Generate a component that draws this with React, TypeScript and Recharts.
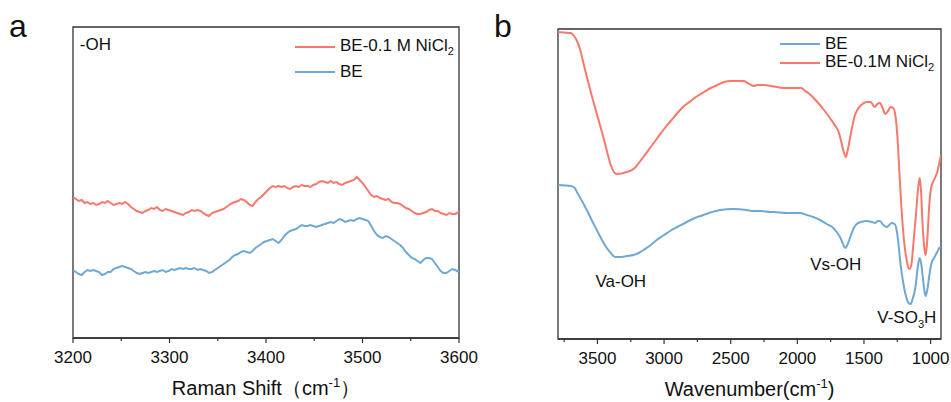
import React from 'react';
import { LineChart, Line, XAxis, YAxis, ReferenceArea, ReferenceDot, Legend } from 'recharts';

const FONT = '"Liberation Sans", Arial, Helvetica, sans-serif';
const RED = '#f8786b';
const BLUE = '#6fa9d3';
const AXIS = '#333';
const INK = '#111';

// ---- panel a: Raman, -OH stretch region ----
const ramanTicks = [3200, 3250, 3300, 3350, 3400, 3450, 3500, 3550, 3600];
const ramanMajor = [3200, 3300, 3400, 3500, 3600];
const ramanNames = ['BE-0.1 M NiCl2', 'BE'];

const ramanNi: [number, number][] = [
  [3200, 141], [3203, 139], [3206, 137], [3209, 138], [3212, 135], [3215, 136], [3218, 134], [3221, 135],
  [3224, 133], [3227, 134], [3230, 136], [3233, 135], [3236, 137], [3239, 135], [3242, 133], [3245, 134],
  [3248, 135], [3251, 134], [3254, 136], [3257, 134], [3260, 131], [3263, 129], [3266, 127], [3269, 126],
  [3272, 125], [3275, 127], [3278, 128], [3281, 130], [3284, 129], [3287, 131], [3290, 128], [3293, 127],
  [3296, 129], [3299, 128], [3302, 127], [3305, 126], [3308, 125], [3311, 124], [3314, 123], [3317, 125],
  [3320, 126], [3323, 128], [3326, 127], [3329, 128], [3332, 127], [3335, 125], [3338, 123], [3341, 122],
  [3344, 125], [3347, 126], [3350, 127], [3353, 128], [3356, 129], [3359, 131], [3362, 133], [3365, 135],
  [3368, 136], [3371, 137], [3374, 139], [3377, 138], [3380, 136], [3383, 133], [3386, 132], [3389, 136],
  [3392, 139], [3395, 141], [3398, 144], [3401, 147], [3404, 150], [3407, 152], [3410, 151], [3413, 152],
  [3416, 151], [3419, 152], [3422, 150], [3425, 149], [3428, 151], [3431, 152], [3434, 151], [3437, 153],
  [3440, 152], [3443, 152], [3446, 151], [3449, 153], [3452, 154], [3455, 156], [3458, 157], [3461, 156],
  [3464, 155], [3467, 157], [3470, 155], [3473, 156], [3476, 154], [3479, 153], [3482, 155], [3485, 156],
  [3488, 157], [3491, 158], [3494, 161], [3497, 158], [3500, 155], [3503, 151], [3506, 147], [3509, 143],
  [3512, 141], [3515, 142], [3518, 140], [3521, 139], [3524, 138], [3527, 139], [3530, 136], [3533, 135],
  [3536, 135], [3539, 134], [3542, 132], [3545, 130], [3548, 129], [3551, 127], [3554, 125], [3557, 124],
  [3560, 124], [3563, 125], [3566, 126], [3569, 128], [3572, 129], [3575, 127], [3578, 127], [3581, 125],
  [3584, 124], [3587, 123], [3590, 125], [3593, 124], [3596, 124], [3600, 126],
];

const ramanBE: [number, number][] = [
  [3200, 68], [3203, 66], [3206, 64], [3209, 63], [3212, 66], [3215, 68], [3218, 67], [3221, 68],
  [3224, 67], [3227, 66], [3230, 63], [3233, 64], [3236, 66], [3239, 66], [3242, 69], [3245, 70],
  [3248, 71], [3251, 72], [3254, 71], [3257, 70], [3260, 69], [3263, 67], [3266, 65], [3269, 64],
  [3272, 65], [3275, 66], [3278, 65], [3281, 66], [3284, 67], [3287, 66], [3290, 67], [3293, 68],
  [3296, 66], [3299, 67], [3302, 69], [3305, 68], [3308, 69], [3311, 70], [3314, 69], [3317, 70],
  [3320, 69], [3323, 69], [3326, 70], [3329, 68], [3332, 69], [3335, 68], [3338, 67], [3341, 65],
  [3344, 66], [3347, 68], [3350, 70], [3353, 72], [3356, 74], [3359, 76], [3362, 78], [3365, 81],
  [3368, 83], [3371, 84], [3374, 86], [3377, 87], [3380, 86], [3383, 85], [3386, 87], [3389, 90],
  [3392, 92], [3395, 94], [3398, 96], [3401, 97], [3404, 98], [3407, 99], [3410, 97], [3413, 95],
  [3416, 98], [3419, 102], [3422, 105], [3425, 107], [3428, 108], [3431, 109], [3434, 111], [3437, 113],
  [3440, 112], [3443, 112], [3446, 113], [3449, 112], [3452, 111], [3455, 112], [3458, 113], [3461, 114],
  [3464, 115], [3467, 116], [3470, 115], [3473, 117], [3476, 119], [3479, 118], [3482, 116], [3485, 117],
  [3488, 118], [3491, 117], [3494, 119], [3497, 120], [3500, 119], [3503, 118], [3506, 117], [3509, 112],
  [3512, 107], [3515, 103], [3518, 101], [3521, 100], [3524, 102], [3527, 101], [3530, 99], [3533, 97],
  [3536, 95], [3539, 93], [3542, 90], [3545, 86], [3548, 83], [3551, 80], [3554, 79], [3557, 77],
  [3560, 75], [3563, 78], [3566, 80], [3569, 80], [3572, 79], [3575, 75], [3578, 71], [3581, 67],
  [3584, 65], [3587, 65], [3590, 67], [3593, 69], [3596, 68], [3600, 66],
];

// ---- panel b: FTIR ----
const irTicks = [3750, 3500, 3250, 3000, 2750, 2500, 2250, 2000, 1750, 1500, 1250, 1000];
const irMajor = [3500, 3000, 2500, 2000, 1500, 1000];
const irNames = ['BE', 'BE-0.1M NiCl2'];

const irBE: [number, number][] = [
  [3796, 154], [3700, 153], [3670, 151], [3650, 146], [3620, 139], [3580, 129], [3540, 118], [3505, 109],
  [3470, 100], [3430, 91], [3400, 86], [3367, 82], [3330, 82], [3280, 83], [3230, 84], [3190, 86],
  [3155, 89], [3100, 94], [3055, 99], [3000, 104], [2955, 108], [2900, 112], [2830, 117], [2770, 121],
  [2705, 124], [2640, 127], [2580, 129], [2480, 130], [2380, 129], [2330, 128], [2280, 128], [2200, 127],
  [2180, 127], [2080, 126], [1980, 126], [1930, 124], [1880, 122], [1830, 119], [1780, 115], [1730, 111],
  [1705, 107], [1680, 102], [1660, 96], [1640, 91], [1625, 94], [1605, 101], [1580, 110], [1555, 115],
  [1520, 117], [1480, 118], [1440, 117], [1417, 116], [1395, 118], [1380, 118], [1355, 114], [1330, 112],
  [1310, 114], [1292, 116], [1270, 115], [1255, 109], [1240, 94], [1225, 74], [1205, 56], [1185, 43],
  [1165, 36], [1150, 35], [1135, 40], [1115, 51], [1095, 73], [1082, 81], [1070, 75], [1058, 61],
  [1045, 47], [1037, 43], [1025, 49], [1010, 63], [995, 75], [970, 82], [950, 87], [935, 91], [922, 92],
];

const irNi: [number, number][] = [
  [3796, 307], [3750, 306.5], [3700, 306], [3675, 303], [3650, 297], [3625, 287], [3600, 273], [3550, 247],
  [3500, 223], [3450, 199], [3400, 174], [3370, 166], [3350, 165], [3280, 167], [3220, 171], [3190, 176],
  [3155, 182], [3100, 192], [3050, 201], [3000, 210], [2950, 218], [2900, 226], [2850, 233], [2800, 238],
  [2750, 243], [2700, 247], [2650, 251], [2600, 254], [2550, 257], [2500, 258], [2450, 258], [2400, 258],
  [2375, 256], [2325, 253], [2300, 254], [2250, 254], [2200, 253], [2150, 252], [2100, 251], [2050, 251],
  [2000, 251], [1970, 251], [1950, 249], [1900, 244], [1850, 237], [1800, 229], [1750, 220], [1710, 212],
  [1690, 207], [1670, 197], [1650, 186], [1637, 182], [1625, 187], [1610, 197], [1590, 211], [1570, 223],
  [1550, 229], [1520, 234], [1480, 237], [1450, 237], [1420, 232], [1400, 235], [1380, 236], [1360, 231],
  [1340, 225], [1320, 228], [1300, 232], [1280, 231], [1265, 224], [1250, 204], [1235, 169], [1220, 134],
  [1200, 99], [1180, 79], [1160, 70], [1145, 74], [1130, 94], [1110, 124], [1095, 149], [1082, 161],
  [1072, 149], [1060, 114], [1045, 89], [1037, 84], [1025, 99], [1010, 134], [995, 152], [975, 159],
  [950, 167], [930, 179], [922, 184],
];

const irNotes = [
  { x: 3515, y: 52, text: 'Va-OH' },
  { x: 1903, y: 69, text: 'Vs-OH' },
  { x: 1400, y: 16, text: 'V-SO3H' },
];

const rows = (pts: [number, number][]) => pts.map(([x, y]) => ({ x, y }));

const SvgChem = ({ text, size }: { text: string; size: number }) => {
  const m = text.match(/^(.*[A-Za-z])(\d)(.*)$/);
  if (!m) return <tspan>{text}</tspan>;
  return (
    <>
      <tspan>{m[1]}</tspan>
      <tspan dy={size * 0.3} fontSize={size * 0.65}>{m[2]}</tspan>
      <tspan dy={-size * 0.3}>{m[3]}</tspan>
    </>
  );
};

const HtmlChem = ({ text }: { text: string }) => {
  const m = text.match(/^(.*[A-Za-z])(\d)$/);
  if (!m) return <span>{text}</span>;
  return (
    <span>
      {m[1]}
      <sub style={{ fontSize: 11, verticalAlign: -4 }}>{m[2]}</sub>
    </span>
  );
};

const AxisTick = (props: any) => {
  const { x, y, payload, majors } = props;
  const major = majors.includes(payload.value);
  return (
    <g>
      <line x1={x} x2={x} y1={y} y2={y + (major ? 5 : 3)} stroke={AXIS} strokeWidth={1.2} />
      {major && (
        <text x={x} y={y + 25} textAnchor="middle" fontSize={17} fontFamily={FONT} fill={INK}>
          {payload.value}
        </text>
      )}
    </g>
  );
};

const YTitle = (props: any) => {
  const { viewBox, text, dx } = props;
  const cx = viewBox.x - dx;
  const cy = viewBox.y + viewBox.height / 2;
  return (
    <text x={cx} y={cy} transform={`rotate(-90 ${cx} ${cy})`} textAnchor="middle" dominantBaseline="central"
      fontSize={20} fontFamily={FONT} fill={INK}>
      {text}
    </text>
  );
};

const XTitle = (props: any) => {
  const { viewBox, before, after } = props;
  const cx = viewBox.x + viewBox.width / 2;
  const by = viewBox.y + 57;
  return (
    <text x={cx} y={by} textAnchor="middle" fontSize={20} fontFamily={FONT} fill={INK}>
      <tspan>{before}</tspan>
      <tspan dy={-8} fontSize={13}>-1</tspan>
      <tspan dy={8}>{after}</tspan>
    </text>
  );
};

const LegendBox = (props: any) => {
  const { payload, rowH, order } = props;
  const items = [...(payload || [])].sort((a: any, b: any) => order.indexOf(a.value) - order.indexOf(b.value));
  return (
    <div style={{ fontFamily: FONT, fontSize: 17, color: INK }}>
      {items.map((p: any) => (
        <div key={p.value} style={{ display: 'flex', alignItems: 'center', height: rowH, whiteSpace: 'nowrap' }}>
          <span style={{ display: 'inline-block', width: 40, height: 2, background: p.color, marginRight: 5 }} />
          <HtmlChem text={p.value} />
        </div>
      ))}
    </div>
  );
};

const Note = (props: any) => {
  const { cx, cy, text } = props;
  return (
    <text x={cx} y={cy} fontSize={17} fontFamily={FONT} fill={INK}>
      <SvgChem text={text} size={17} />
    </text>
  );
};

const RamanPanel = () => (
  <LineChart width={480} height={402} margin={{ top: 27, right: 21, bottom: 24, left: 73 }}>
    <XAxis type="number" dataKey="x" domain={[3200, 3600]} ticks={ramanTicks} interval={0} height={40}
      allowDataOverflow axisLine={{ stroke: AXIS, strokeWidth: 1.3 }} tickLine={false}
      tickSize={0} tickMargin={0} tick={(p: any) => <AxisTick {...p} majors={ramanMajor} />}
      label={<XTitle before="Raman Shift（cm" after="）" />} />
    <YAxis type="number" dataKey="y" domain={[0, 311]} width={0} tick={false} axisLine={false} tickLine={false}
      allowDataOverflow label={<YTitle text="Intensity(a.u)" dx={29} />} />
    <ReferenceArea x1={3200} x2={3600} y1={0} y2={311} fill="none" stroke={AXIS} strokeWidth={1.3} />
    <Legend layout="vertical" align="center" verticalAlign="middle"
      wrapperStyle={{ top: 34, left: 295, width: 'auto' }}
      content={(p: any) => <LegendBox {...p} rowH={25} order={ramanNames} />} />
    <ReferenceDot x={3207} y={288} r={0} shape={(p: any) => <Note {...p} text="-OH" />} />
    <Line data={rows(ramanNi)} dataKey="y" name={ramanNames[0]} stroke={RED} strokeWidth={2} dot={false}
      type="linear" isAnimationActive={false} />
    <Line data={rows(ramanBE)} dataKey="y" name={ramanNames[1]} stroke={BLUE} strokeWidth={2} dot={false}
      type="linear" isAnimationActive={false} />
  </LineChart>
);

const IrPanel = () => (
  <LineChart width={471} height={402} margin={{ top: 29, right: 10, bottom: 23, left: 78 }}>
    <XAxis type="number" dataKey="x" domain={[922, 3796]} reversed ticks={irTicks} interval={0} height={40}
      allowDataOverflow axisLine={{ stroke: AXIS, strokeWidth: 1.3 }} tickLine={false}
      tickSize={0} tickMargin={0} tick={(p: any) => <AxisTick {...p} majors={irMajor} />}
      label={<XTitle before="Wavenumber(cm" after=")" />} />
    <YAxis type="number" dataKey="y" domain={[0, 310]} width={0} tick={false} axisLine={false} tickLine={false}
      allowDataOverflow label={<YTitle text="Transmittance(a.u.)" dx={19} />} />
    <ReferenceArea x1={922} x2={3796} y1={0} y2={310} fill="none" stroke={AXIS} strokeWidth={1.3} />
    <Legend layout="vertical" align="center" verticalAlign="middle"
      wrapperStyle={{ top: 34, left: 300, width: 'auto' }}
      content={(p: any) => <LegendBox {...p} rowH={19} order={irNames} />} />
    {irNotes.map((n) => (
      <ReferenceDot key={n.text} x={n.x} y={n.y} r={0} shape={(p: any) => <Note {...p} text={n.text} />} />
    ))}
    <Line data={rows(irBE)} dataKey="y" name={irNames[0]} stroke={BLUE} strokeWidth={2} dot={false}
      type="monotone" isAnimationActive={false} />
    <Line data={rows(irNi)} dataKey="y" name={irNames[1]} stroke={RED} strokeWidth={2} dot={false}
      type="monotone" isAnimationActive={false} />
  </LineChart>
);

const panelLetter: React.CSSProperties = {
  position: 'absolute', top: 10, fontFamily: FONT, fontSize: 32, lineHeight: 1, color: INK,
};

export default function App() {
  return (
    <div style={{ position: 'absolute', left: 0, top: 0, width: 951, height: 402, background: '#fff', overflow: 'hidden' }}>
      <div style={{ position: 'absolute', left: 0, top: 0 }}>
        <RamanPanel />
      </div>
      <div style={{ position: 'absolute', left: 480, top: 0 }}>
        <IrPanel />
      </div>
      <div style={{ ...panelLetter, left: 9 }}>a</div>
      <div style={{ ...panelLetter, left: 494 }}>b</div>
    </div>
  );
}
